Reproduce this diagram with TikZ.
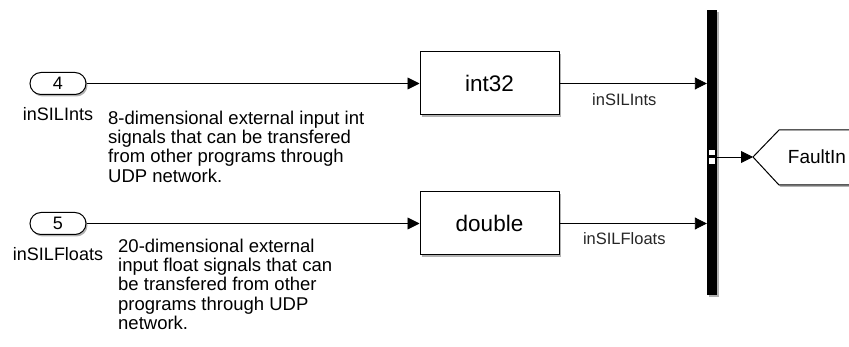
\documentclass[tikz,border=0pt]{standalone}
\usepackage{fontspec}
\setmainfont{Liberation Sans}
\usetikzlibrary{arrows.meta}
\usetikzlibrary{calc}
\usetikzlibrary{shapes.misc}
\usetikzlibrary{shadows}

\newcommand{\SLPortLabelDrop}{37}
\newcommand{\SLInport}[4]{
  \node[inport] (#1) at #2 {#3};
  \node[portlabel, anchor=base] (#1label) at ($(#1) +(0,-\SLPortLabelDrop)$) {#4};
}
\newcommand{\SLBlock}[3]{
  \node[block] (#1) at #2 {#3};
}
\newcommand{\SLNote}[3]{
  \node[note] (#1) at #2 {#3};
}

\tikzset{
  slshadow/.style={drop shadow={shadow xshift=1.5pt, shadow yshift=-2pt, opacity=.3, fill=black}},
  inport/.style={draw, rounded rectangle, line width=1pt, fill=white, minimum width=56pt,
    minimum height=22pt, inner sep=0pt, font=\fontsize{18}{18}\selectfont, slshadow},
  block/.style={draw, rectangle, line width=1pt, fill=white, minimum width=139pt,
    minimum height=63pt, inner sep=0pt, font=\fontsize{22.5}{22.5}\selectfont, slshadow},
  busbar/.style={fill=black, minimum width=10pt, minimum height=285pt, inner sep=0pt, slshadow},
  wire/.style={line width=0.9pt, -{Triangle[length=12pt, width=12pt]}},
  portlabel/.style={inner sep=0pt, font=\fontsize{18}{18}\selectfont},
  wirelabel/.style={inner sep=0pt, text=black!85, font=\fontsize{16.5}{16.5}\selectfont},
  note/.style={anchor=north west, align=left, inner sep=0pt, font=\fontsize{18.5}{19.3}\selectfont},
  goto/.style={draw, line width=1pt, fill=white, slshadow},
  gotolabel/.style={inner sep=0pt, font=\fontsize{19}{19}\selectfont},
}

\begin{document}
\begin{tikzpicture}[x=1pt, y=1pt]
\useasboundingbox (0,0) rectangle (849,-347);
\clip (0,0) rectangle (849,-347);

\SLInport{in4}{(58,-83.5)}{4}{inSILInts}
\SLInport{in5}{(58,-223.5)}{5}{inSILFloats}

\SLNote{note4}{(108,-110.5)}{8-dimensional external input int\\signals that can be transfered\\from other programs through\\UDP network.}
\SLNote{note5}{(118,-238.5)}{20-dimensional external\\input float signals that can\\be transfered from other\\programs through UDP\\network.}

\SLBlock{int32}{(489.5,-83.5)}{int32}
\SLBlock{double}{(489.5,-223.5)}{double}

\node[busbar] (bus) at (712,-152.5) {};
\fill[white] (709,-150) rectangle (715,-155.5);
\fill[white] (709,-158.5) rectangle (715,-164);
\coordinate (busout) at (717,-157);

\coordinate (gototip) at (753,-157);
\draw[goto] (880,-130) -- (779,-130) -- (gototip) -- (779,-185) -- (880,-185);
\node[gotolabel] (faultin) at (817,-157) {FaultIn};

\draw[wire] (in4.east) -- (int32.west);
\draw[wire] (in5.east) -- (double.west);
\draw[wire] (int32.east) -- (int32.east -| bus.west)
  node[wirelabel, pos=0.44, below=10pt] (intslabel) {inSILInts};
\draw[wire] (double.east) -- (double.east -| bus.west)
  node[wirelabel, pos=0.44, below=9pt] (floatslabel) {inSILFloats};
\draw[wire] (busout) -- (gototip);
\end{tikzpicture}
\end{document}
